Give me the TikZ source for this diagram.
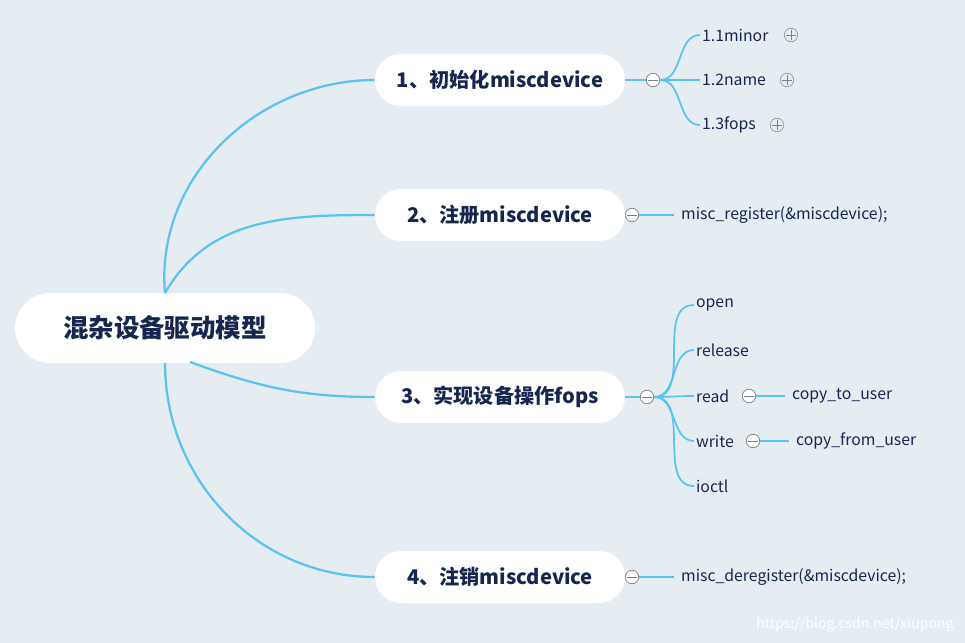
\documentclass[tikz,border=0pt]{standalone}
\usepackage{fontspec}
\setmainfont{Noto Sans CJK SC}
\usetikzlibrary{positioning}
\definecolor{bgcol}{HTML}{E6EDF2}
\definecolor{linecol}{HTML}{5BC3F2}
\definecolor{textcol}{HTML}{17264F}
\tikzstyle{rootbox}=[fill=white,rounded corners=0.7cm,minimum width=6cm,minimum height=1.4cm,text=textcol,font=\fontsize{14.5}{16}\selectfont\bfseries]
\tikzstyle{branch}=[fill=white,rounded corners=0.52cm,minimum width=5cm,minimum height=1.04cm,text=textcol,font=\fontsize{11.5}{13}\selectfont\bfseries]
\tikzstyle{leaf}=[anchor=west,inner sep=1pt,text=textcol,font=\fontsize{9}{10}\selectfont]
\tikzstyle{fold}=[circle,draw=gray,fill=white,minimum size=0.27cm,inner sep=0pt]
\tikzstyle{link}=[draw,linecol,line width=1.3pt]
\tikzstyle{twig}=[draw,linecol,line width=1pt]
\newcommand{\minusmark}[1]{\draw[gray] ([xshift=-2.6pt]#1.center) -- ([xshift=2.6pt]#1.center);}
\newcommand{\plusmark}[1]{\minusmark{#1}\draw[gray] ([yshift=-2.6pt]#1.center) -- ([yshift=2.6pt]#1.center);}
\begin{document}
\begin{tikzpicture}[x=0.02cm,y=-0.02cm]
\useasboundingbox (0,0) rectangle (965,643);
\fill[bgcol] (0,0) rectangle (965,643);

% main nodes
\node[rootbox] (root) at (165,328) {混杂设备驱动模型};
\node[branch] (b1) at (500,80) {1、初始化miscdevice};
\node[branch] (b2) at (500,215) {2、注册miscdevice};
\node[branch] (b3) at (500,397) {3、实现设备操作fops};
\node[branch] (b4) at (500,577) {4、注销miscdevice};

\draw[link] (165,293) to[out=95,in=180] (b1.west);
\draw[link] (165,293) to[out=60,in=180] (b2.west);
\draw[link] (190,362) to[out=-20,in=180] (b3.west);
\draw[link] (165,363) to[out=-90,in=180] (b4.west);

% fold buttons
\foreach \pos/\name in {{(653,80)/f1},{(632,215)/f2},{(647,397)/f3},{(632,577)/f4},{(749,396)/fr},{(753,441)/fw}}
    \node[fold] (\name) at \pos {};
\foreach \name in {f1,f2,f3,f4,fr,fw}
    {\minusmark{\name}}

% leaves
\node[leaf] (minor) at (700,35) {1.1minor};
\node[leaf] (name) at (700,80) {1.2name};
\node[leaf] (fops) at (700,125) {1.3fops};
\node[leaf] (reg) at (679,215) {misc\_register(\&miscdevice);};
\node[leaf] (open) at (694,305) {open};
\node[leaf] (release) at (694,350) {release};
\node[leaf] (read) at (694,396) {read};
\node[leaf] (write) at (694,441) {write};
\node[leaf] (ioctl) at (694,486) {ioctl};
\node[leaf] (ctu) at (790,396) {copy\_to\_user};
\node[leaf] (cfu) at (794,441) {copy\_from\_user};
\node[leaf] (dereg) at (679,577) {misc\_deregister(\&miscdevice);};

\foreach \pos/\name in {{(791,35)/p1},{(787,80)/p2},{(777,125)/p3}}
    \node[fold,draw=gray!80,fill=none] (\name) at \pos {};
\foreach \name in {p1,p2,p3}
    {\plusmark{\name}}

\draw[twig] (b1.east) -- (f1);
\foreach \dest in {minor,name,fops}
    \draw[twig] (f1.east) to[out=0,in=180] (\dest.west);
\draw[twig] (b2.east) -- (f2);
\draw[twig] (f2.east) -- ([xshift=-3pt]reg.west);
\draw[twig] (b3.east) -- (f3);
\foreach \dest in {open,release,read,write,ioctl}
    \draw[twig] (f3.east) to[out=0,in=180] (\dest.west);
\draw[twig] (fr.east) -- ([xshift=-3pt]ctu.west);
\draw[twig] (fw.east) -- ([xshift=-3pt]cfu.west);
\draw[twig] (b4.east) -- (f4);
\draw[twig] (f4.east) -- ([xshift=-3pt]dereg.west);

\node[text=white,font=\fontsize{8}{9}\selectfont] (mark) at (855,625) {https://blog.csdn.net/xiupong};
\end{tikzpicture}
\end{document}
